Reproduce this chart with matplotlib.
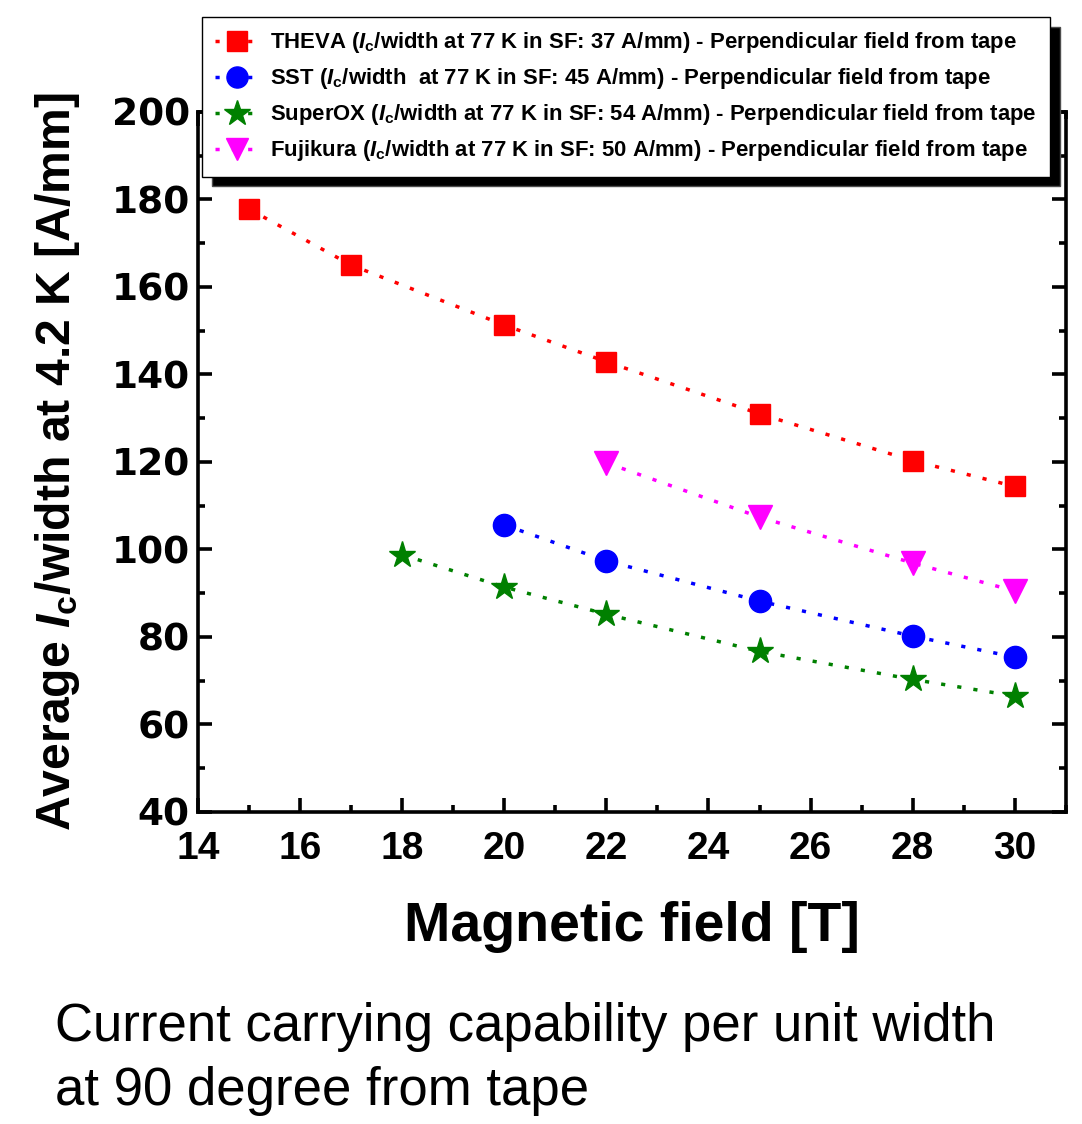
#!/usr/bin/env python3
import matplotlib
matplotlib.use('Agg')
import matplotlib.pyplot as plt
from matplotlib.ticker import MultipleLocator

plt.rcParams['font.family'] = ['Liberation Sans', 'DejaVu Sans']
plt.rcParams['mathtext.fontset'] = 'custom'
plt.rcParams['mathtext.rm'] = 'Liberation Sans:bold'
plt.rcParams['mathtext.it'] = 'Liberation Sans:italic:bold'
plt.rcParams['mathtext.bf'] = 'Liberation Sans:bold'

# field [T] and Ic/width [A/mm]
theva_b = [15, 17, 20, 22, 25, 28, 30]
theva_ic = [177.8, 165.0, 151.3, 142.9, 131.0, 120.3, 114.4]

sst_b = [20, 22, 25, 28, 30]
sst_ic = [105.6, 97.4, 88.2, 80.2, 75.4]

superox_b = [18, 20, 22, 25, 28, 30]
superox_ic = [98.8, 91.4, 85.2, 76.7, 70.3, 66.5]

fujikura_b = [22, 25, 28, 30]
fujikura_ic = [119.8, 107.4, 96.9, 90.5]

labels = [
    r'THEVA ($I_\mathrm{c}$/width at 77 K in SF: 37 A/mm) - Perpendicular field from tape',
    r'SST ($I_\mathrm{c}$/width  at 77 K in SF: 45 A/mm) - Perpendicular field from tape',
    r'SuperOX ($I_\mathrm{c}$/width at 77 K in SF: 54 A/mm) - Perpendicular field from tape',
    r'Fujikura ($I_\mathrm{c}$/width at 77 K in SF: 50 A/mm) - Perpendicular field from tape',
]


def main():
    fig = plt.figure(figsize=(10.82, 11.24), dpi=100)
    ax = fig.add_axes([0.183, 0.2776, 0.802, 0.6228])

    dots = (0, (1.2, 3.5))
    series = [
        (theva_b, theva_ic, '#ff0000', 's', 15),
        (sst_b, sst_ic, '#0000ff', 'o', 16),
        (superox_b, superox_ic, '#008000', '*', 20),
        (fujikura_b, fujikura_ic, '#ff00ff', 'v', 17),
    ]
    handles = []
    for (b, ic, color, marker, ms), label in zip(series, labels):
        h, = ax.plot(b, ic, linestyle=dots, lw=2.5, color=color,
                     marker=marker, ms=ms, mec=color, mfc=color, label=label)
        handles.append(h)

    ax.set_xlim(14, 31)
    ax.set_ylim(40, 200)
    ax.xaxis.set_major_locator(MultipleLocator(2))
    ax.xaxis.set_minor_locator(MultipleLocator(1))
    ax.yaxis.set_major_locator(MultipleLocator(20))
    ax.yaxis.set_minor_locator(MultipleLocator(10))
    ax.set_xticks(range(14, 31, 2))

    for s in ax.spines.values():
        s.set_linewidth(2.6)
    ax.tick_params(which='both', direction='in', top=True, right=True,
                   width=2.6)
    ax.tick_params(which='major', length=10)
    ax.tick_params(which='minor', length=5)
    ax.tick_params(axis='x', labelsize=28, pad=14)
    ax.tick_params(axis='y', labelsize=27, pad=6)
    for t in ax.get_xticklabels():
        t.set_fontweight('bold')
    # the y tick numbers are wider in the original, DejaVu bold is close
    for t in ax.get_yticklabels():
        t.set_fontweight('bold')
        t.set_fontfamily('DejaVu Sans')

    ax.set_xlabel('Magnetic field [T]', fontsize=40, fontweight='bold',
                  labelpad=24)
    ax.set_ylabel(r'Average $I_\mathrm{c}$/width at 4.2 K [A/mm]',
                  fontsize=34.7, fontweight='bold', labelpad=21)

    leg = fig.legend(handles=handles, loc='upper left',
                     bbox_to_anchor=(202 / 1082, 1 - 17 / 1124),
                     borderaxespad=0, fancybox=False, framealpha=1,
                     edgecolor='black', prop={'size': 15.9, 'weight': 'bold'},
                     handlelength=2.0, handletextpad=0.5, labelspacing=0.5,
                     borderpad=0.6, markerscale=0.95,
                     shadow={'ox': 7, 'oy': -7, 'facecolor': 'black',
                             'alpha': 1})
    leg.get_frame().set_linewidth(1.0)

    fig.text(55 / 1082, 1 - 1002 / 1124,
             'Current carrying capability per unit width\n'
             'at 90 degree from tape',
             fontsize=38, ha='left', va='top', linespacing=1.35)

    fig.savefig('out.png', dpi=100)


if __name__ == '__main__':
    main()
